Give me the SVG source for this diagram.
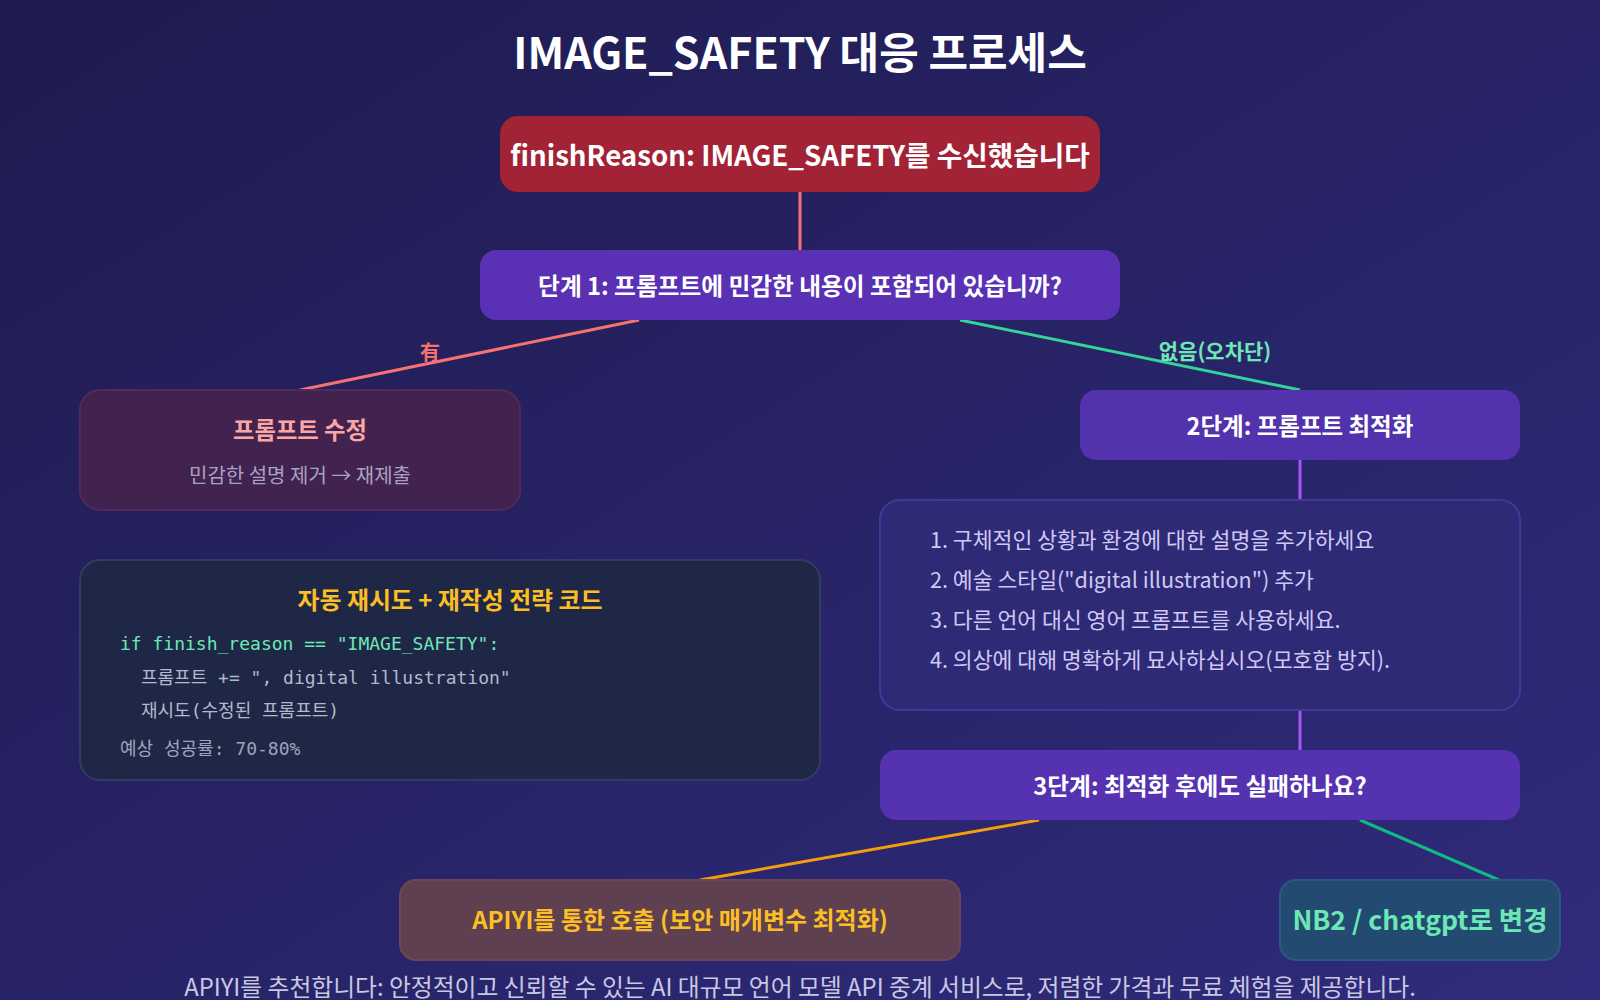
<svg xmlns="http://www.w3.org/2000/svg" width="1600" height="1000" viewBox="0 0 1600 1000">
<defs>
<linearGradient id="bg" x1="0" y1="0" x2="1" y2="1">
<stop offset="0" stop-color="#1e1b4f"/>
<stop offset="1" stop-color="#302b7c"/>
</linearGradient>
</defs>
<style>
text{font-family:"Noto Sans CJK KR","Noto Sans",sans-serif;text-anchor:middle}
.b{font-weight:700}
.w{fill:#ffffff}
.mono{font-family:"DejaVu Sans Mono","Noto Sans CJK KR",monospace;font-size:18px;text-anchor:start}
.tip{font-size:21.6px;fill:#cfc8f5;text-anchor:start}
.conn line{stroke-width:3}
</style>
<rect width="1600" height="1000" fill="url(#bg)"/>
<text x="800" y="69" class="b w" font-size="43">IMAGE_SAFETY 대응 프로세스</text>
<g class="conn">
<line x1="800" y1="192" x2="800" y2="250" stroke="#f87171"/>
<line x1="639" y1="320" x2="300" y2="390" stroke="#f87171"/>
<line x1="960" y1="320" x2="1300" y2="390" stroke="#34d399"/>
<line x1="1300" y1="460" x2="1300" y2="500" stroke="#a855f7"/>
<line x1="1300" y1="710" x2="1300" y2="750" stroke="#a855f7"/>
<line x1="1039" y1="820" x2="700" y2="880" stroke="#f59e0b"/>
<line x1="1360" y1="820" x2="1499" y2="880" stroke="#10b981"/>
<text x="430" y="360" class="b" font-size="20" fill="#f87171">有</text>
<text x="1215" y="359" class="b" font-size="21" fill="#6ee7b7">없음(오차단)</text>
</g>
<g id="start">
<rect x="500" y="116" width="600" height="76" rx="18" fill="#a32336"/>
<text x="800" y="166" class="b w" font-size="27.7">finishReason: IMAGE_SAFETY를 수신했습니다</text>
</g>
<g id="step1">
<rect x="480" y="250" width="640" height="70" rx="16" fill="#5a30b5"/>
<text x="800" y="295" class="b w" font-size="23.7">단계 1: 프롬프트에 민감한 내용이 포함되어 있습니까?</text>
</g>
<g id="fix">
<rect x="80" y="390" width="440" height="120" rx="20" fill="#42224f" stroke="#52295c" stroke-width="2"/>
<text x="300" y="439" class="b" font-size="23.3" fill="#fca5a5">프롬프트 수정</text>
<text x="300" y="483" font-size="20" fill="#a8a3c4">민감한 설명 제거 → 재제출</text>
</g>
<g id="step2">
<rect x="1080" y="390" width="440" height="70" rx="16" fill="#5232ad"/>
<text x="1300" y="435" class="b w" font-size="23.5">2단계: 프롬프트 최적화</text>
</g>
<g id="tips">
<rect x="880" y="500" width="640" height="210" rx="20" fill="#2e2a75" stroke="#3d3a9c" stroke-width="2"/>
<text x="930" y="548" class="tip">1. 구체적인 상황과 환경에 대한 설명을 추가하세요</text>
<text x="930" y="588" class="tip">2. 예술 스타일("digital illustration") 추가</text>
<text x="930" y="628" class="tip">3. 다른 언어 대신 영어 프롬프트를 사용하세요.</text>
<text x="930" y="668" class="tip">4. 의상에 대해 명확하게 묘사하십시오(모호함 방지).</text>
</g>
<g id="code">
<rect x="80" y="560" width="740" height="220" rx="20" fill="#1f2747" stroke="#333b62" stroke-width="2"/>
<text x="450" y="609" class="b" font-size="23.9" fill="#fbbf24">자동 재시도 + 재작성 전략 코드</text>
<text x="120" y="650" class="mono" fill="#6ee7b7">if finish_reason == "IMAGE_SAFETY":</text>
<text x="141" y="684" class="mono" fill="#b4b8cc">프롬프트 += ", digital illustration"</text>
<text x="141" y="717" class="mono" fill="#b4b8cc">재시도(수정된 프롬프트)</text>
<text x="120" y="755" class="mono" fill="#a0a4bc">예상 성공률: 70-80%</text>
</g>
<g id="step3">
<rect x="880" y="750" width="640" height="70" rx="16" fill="#5432b0"/>
<text x="1200" y="795" class="b w" font-size="23.7">3단계: 최적화 후에도 실패하나요?</text>
</g>
<g id="apiyi">
<rect x="400" y="880" width="560" height="80" rx="16" fill="#5e4050" stroke="#6b4756" stroke-width="2"/>
<text x="680" y="929" class="b" font-size="24" fill="#fbbf24">APIYI를 통한 호출 (보안 매개변수 최적화)</text>
</g>
<g id="nb2">
<rect x="1280" y="880" width="280" height="80" rx="16" fill="#234a70" stroke="#2a5880" stroke-width="2"/>
<text x="1420" y="930" class="b" font-size="26.5" fill="#6ee7b7">NB2 / chatgpt로 변경</text>
</g>
<text x="800" y="996" font-size="23.8" fill="#c8c8e2">APIYI를 추천합니다: 안정적이고 신뢰할 수 있는 AI 대규모 언어 모델 API 중계 서비스로, 저렴한 가격과 무료 체험을 제공합니다.</text>
</svg>
